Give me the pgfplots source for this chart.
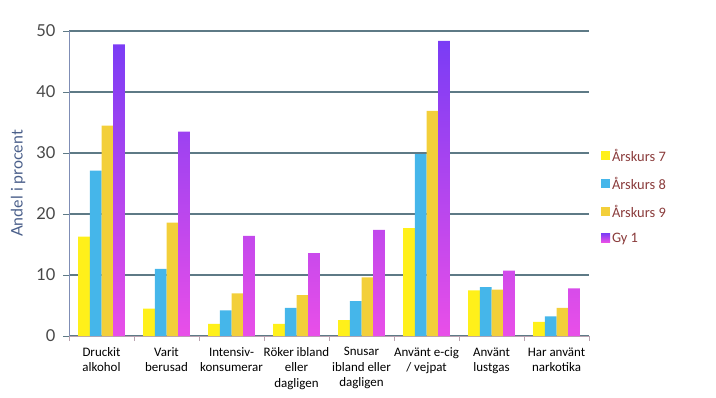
\documentclass[border=0pt]{standalone}
\usepackage{pgfplots}
\pgfplotsset{compat=1.18}
\usepackage{fontspec}
\setmainfont{Carlito}
\newfontfamily\latofont{Lato}
\definecolor{cA}{HTML}{FFF01A}
\definecolor{cB}{HTML}{45B6EA}
\definecolor{cC}{HTML}{F3CF3A}
\definecolor{cDtop}{HTML}{7A3CF5}
\definecolor{cDbot}{HTML}{E94FE8}
\definecolor{gridc}{HTML}{5E7A86}
\definecolor{yaxc}{HTML}{7F8DB5}
\definecolor{xaxc}{HTML}{B9A3B0}
\definecolor{legtext}{HTML}{8A3B3B}
\definecolor{ylabc}{HTML}{4A5F8A}
\begin{document}
\begin{tikzpicture}[x=1bp,y=1bp]
\path[use as bounding box] (0,0) rectangle (716,397);
\begin{axis}[
  at={(69bp,61bp)}, anchor=south west,
  scale only axis, width=520bp, height=305bp,
  xmin=-0.5, xmax=7.5, ymin=0, ymax=50,
  ybar=0pt, bar width=0.18,
  ytick={0,10,...,50},
  xtick={0,...,7},
  minor xtick={-0.5,0.5,...,7.5},
  xticklabels={{Druckit\\alkohol},{Varit\\berusad},{Intensiv-\\konsumerar},{Röker ibland\\eller\\dagligen},{Snusar\\ibland eller\\dagligen},{Använt e-cig\\/ vejpat},{Använt\\lustgas},{Har använt\\narkotika}},
  xticklabel style={font=\fontsize{13}{15.5}\selectfont, align=center, text=black, yshift=-2bp},
  yticklabel style={font=\latofont\fontsize{16.5}{18}\selectfont, text=black!72, xshift=-4bp},
  /pgf/number format/assume math mode=true,
  ymajorgrids, grid style={draw=gridc, line width=1.1pt},
  axis x line*=bottom, axis y line*=left,
  x axis line style={draw=xaxc, line width=1pt},
  y axis line style={draw=yaxc, line width=1pt},
  tick align=outside,
  major tick length=6bp, minor tick length=5bp,
  major x tick style={draw=none},
  minor x tick style={draw=xaxc, line width=0.8pt},
  major y tick style={draw=gridc, line width=1pt},
  ylabel={Andel i procent},
  ylabel style={at={(axis description cs:-0.098,0.5)}, anchor=center, font=\latofont\fontsize{16}{18}\selectfont, text=ylabc},
  legend style={at={(1.017,0.625)}, anchor=north west, draw=none, fill=none,
    font=\fontsize{14.5}{16}\selectfont, text=legtext, row sep=10bp},
  legend cell align=left,
  legend image code/.code={\fill[#1] (0bp,-4bp) rectangle (9bp,5bp);},
]
\addplot[draw=none, fill=cA] coordinates {(0,16.3) (1,4.5) (2,2.0) (3,2.0) (4,2.6) (5,17.7) (6,7.5) (7,2.3)};
\addlegendentry{Årskurs 7}
\addplot[draw=none, fill=cB] coordinates {(0,27.1) (1,11.0) (2,4.2) (3,4.6) (4,5.7) (5,29.8) (6,8.0) (7,3.2)};
\addlegendentry{Årskurs 8}
\addplot[draw=none, fill=cC] coordinates {(0,34.5) (1,18.6) (2,7.0) (3,6.7) (4,9.6) (5,36.9) (6,7.6) (7,4.6)};
\addlegendentry{Årskurs 9}
\addplot[draw=none, top color=cDtop, bottom color=cDbot] coordinates {(0,47.8) (1,33.5) (2,16.4) (3,13.6) (4,17.4) (5,48.4) (6,10.7) (7,7.8)};
\addlegendentry{Gy 1}
\end{axis}
\end{tikzpicture}
\end{document}
